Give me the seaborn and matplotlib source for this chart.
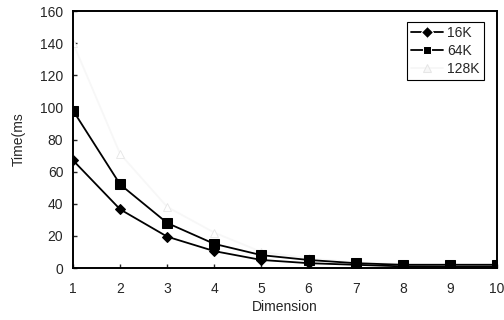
import numpy as np
import pandas as pd
import matplotlib
matplotlib.use('Agg')
import matplotlib.pyplot as plt
import seaborn as sns

dims = [1, 2, 3, 4, 5, 6, 7, 8, 9, 10]
t16k = [67, 36.5, 19.5, 10.5, 5, 3, 2, 1, 0.8, 0.8]
t64k = [98, 52, 28, 15, 8, 5, 3, 2, 2, 2]
t128k = [140, 71, 38, 22, 10, 6, 3.5, 2.5, 2.5, 2.5]
series = ['16K', '64K', '128K']

df = pd.DataFrame({'Dimension': dims * 3,
                   'Time': t16k + t64k + t128k,
                   'size': [s for s in series for _ in dims]})

sns.set_style('ticks')
plt.rcParams['font.family'] = ['Liberation Sans', 'DejaVu Sans']
plt.rcParams['xtick.direction'] = 'in'
plt.rcParams['ytick.direction'] = 'in'

fig = plt.figure(figsize=(5.04, 3.2), dpi=100)
ax = fig.add_axes([0.145, 0.1625, 0.841, 0.803])

faint = '#f7f7f7'
pal = {'16K': 'black', '64K': 'black', '128K': faint}
mk = {'16K': 'D', '64K': 's', '128K': '^'}
ax = sns.lineplot(data=df, x='Dimension', y='Time', hue='size', style='size',
                  palette=pal, markers=mk, dashes=False, lw=1.3, ax=ax)
for line, s in zip(ax.lines, series):
    if s == '16K':
        line.set_markersize(5)
        line.set_markeredgecolor('black')
    elif s == '64K':
        line.set_markersize(6.5)
        line.set_markeredgecolor('black')
    else:
        line.set_markersize(6)
        line.set_markerfacecolor('white')
        line.set_markeredgecolor('#e6e6e6')
        line.set_markeredgewidth(0.6)
        line.set_zorder(1)

ax.set_xlim(1, 10)
ax.set_ylim(0, 160)
ax.set_xticks(dims)
ax.set_yticks(np.arange(0, 161, 20))
ax.tick_params(labelsize=10, length=3, width=1)
ax.tick_params(axis='x', pad=10)
ax.tick_params(axis='y', pad=7)
for sp in ax.spines.values():
    sp.set_visible(True)
    sp.set_color('black')
    sp.set_linewidth(1.4)
ax.set_xlabel('Dimension', fontsize=10, labelpad=3)
ax.set_ylabel('Time(ms', fontsize=10, labelpad=10)

leg = ax.legend(loc='upper right', bbox_to_anchor=(0.975, 0.97), fontsize=10,
                frameon=True, fancybox=False, framealpha=1, edgecolor='black',
                handlelength=2.3, handletextpad=0.3, borderpad=0.3,
                labelspacing=0.3, borderaxespad=0.2, title=None)
leg.get_frame().set_linewidth(0.8)
for h in leg.get_lines():
    if h.get_label() == '128K':
        h.set_color(faint)
        h.set_markeredgecolor('#e6e6e6')

fig.savefig('out.png', dpi=100)
